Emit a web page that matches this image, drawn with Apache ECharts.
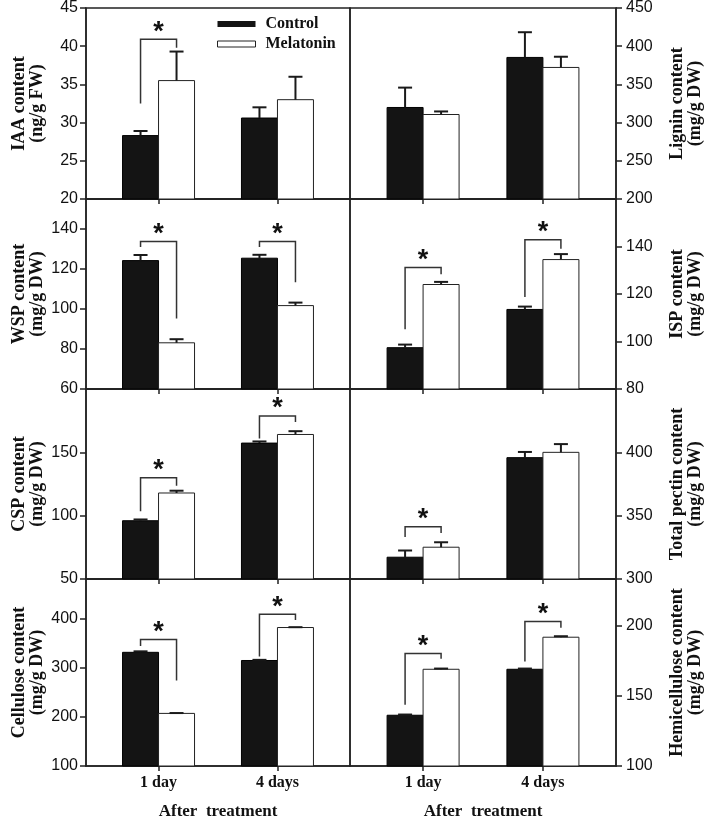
<!DOCTYPE html>
<html><head><meta charset="utf-8">
<script src="https://cdn.jsdelivr.net/npm/echarts@6/dist/echarts.min.js"></script>
<style>html,body{margin:0;padding:0;background:#fff}#c{width:705px;height:821px}</style>
</head><body><div id="c"></div>
<script>
// ---------- data ----------
const categories = ['1 day', '4 days'];
const seriesNames = ['Control', 'Melatonin'];
const xAxisTitle = 'After  treatment';

const iaaTitle = 'IAA content\n(ng/g FW)';
const iaaAxis = [20, 45, 5];
const iaaControl = [28.3, 30.6];
const iaaControlErr = [0.6, 1.4];
const iaaMelatonin = [35.5, 33.0];
const iaaMelatoninErr = [3.8, 3.0];
const iaaSig = [[40.9, 32.5, 39.8], null];

const ligninTitle = 'Lignin content\n(mg/g DW)';
const ligninAxis = [200, 450, 50];
const ligninControl = [319.8, 385.3];
const ligninControlErr = [26, 33];
const ligninMelatonin = [310.6, 372.2];
const ligninMelatoninErr = [4, 14];
const ligninSig = [null, null];

const wspTitle = 'WSP content\n(mg/g DW)';
const wspAxis = [60, 155, 20];
const wspControl = [124.2, 125.4];
const wspControlErr = [2.8, 1.7];
const wspMelatonin = [83.1, 101.7];
const wspMelatoninErr = [1.8, 1.5];
const wspSig = [[133.7, 131, 95.2], [133.7, 131, 113.4]];

const ispTitle = 'ISP content\n(mg/g DW)';
const ispAxis = [80, 160, 20];
const ispControl = [97.4, 113.5];
const ispControlErr = [1.3, 1.2];
const ispMelatonin = [124.0, 134.5];
const ispMelatoninErr = [1.1, 2.3];
const ispSig = [[131.2, 105.2, 128.3], [142.8, 118.7, 139.1]];

const cspTitle = 'CSP content\n(mg/g DW)';
const cspAxis = [50, 200, 50];
const cspControl = [96.0, 157.3];
const cspControlErr = [1.0, 1.3];
const cspMelatonin = [117.9, 164.1];
const cspMelatoninErr = [1.8, 2.6];
const cspSig = [[129.9, 103.5, 123.6], [178.7, 161, 174]];

const pectinTitle = 'Total pectin content\n(mg/g DW)';
const pectinAxis = [300, 450, 50];
const pectinControl = [317.2, 395.8];
const pectinControlErr = [5.3, 4.5];
const pectinMelatonin = [325.1, 400.0];
const pectinMelatoninErr = [3.9, 6.5];
const pectinSig = [[341.3, 333.2, 336.3], null];

const celluloseTitle = 'Cellulose content\n(mg/g DW)';
const celluloseAxis = [100, 480, 100];
const celluloseControl = [331, 314.4];
const celluloseControlErr = [2, 1.3];
const celluloseMelatonin = [206.9, 381.4];
const celluloseMelatoninErr = [0.7, 0.7];
const celluloseSig = [[356.9, 343.6, 273.9], [408.6, 322.3, 396.7]];

const hemiTitle = 'Hemicellulose content\n(mg/g DW)';
const hemiAxis = [100, 233, 50];
const hemiControl = [136.1, 168.8];
const hemiControlErr = [0.5, 0.5];
const hemiMelatonin = [168.8, 191.6];
const hemiMelatoninErr = [0.5, 0.7];
const hemiSig = [[180, 143.6, 176.2], [202.8, 174.4, 198.4]];

// ---------- layout / style ----------
const panels = [
  {title: iaaTitle, axis: iaaAxis, c: iaaControl, ce: iaaControlErr, m: iaaMelatonin, me: iaaMelatoninErr, sig: iaaSig},
  {title: ligninTitle, axis: ligninAxis, c: ligninControl, ce: ligninControlErr, m: ligninMelatonin, me: ligninMelatoninErr, sig: ligninSig},
  {title: wspTitle, axis: wspAxis, c: wspControl, ce: wspControlErr, m: wspMelatonin, me: wspMelatoninErr, sig: wspSig},
  {title: ispTitle, axis: ispAxis, c: ispControl, ce: ispControlErr, m: ispMelatonin, me: ispMelatoninErr, sig: ispSig},
  {title: cspTitle, axis: cspAxis, c: cspControl, ce: cspControlErr, m: cspMelatonin, me: cspMelatoninErr, sig: cspSig},
  {title: pectinTitle, axis: pectinAxis, c: pectinControl, ce: pectinControlErr, m: pectinMelatonin, me: pectinMelatoninErr, sig: pectinSig},
  {title: celluloseTitle, axis: celluloseAxis, c: celluloseControl, ce: celluloseControlErr, m: celluloseMelatonin, me: celluloseMelatoninErr, sig: celluloseSig},
  {title: hemiTitle, axis: hemiAxis, c: hemiControl, ce: hemiControlErr, m: hemiMelatonin, me: hemiMelatoninErr, sig: hemiSig}
];
const colLeft = [86, 350], colWidth = [264, 267];
const rowTop = [8, 199, 389, 579], rowHeight = [191, 190, 190, 190];
const LINE = '#222';
const BAR_W = 36, CAP_W = 14;
const SERIF = '"Liberation Serif", "Times New Roman", serif';
const SANS = '"Liberation Sans", Arial, sans-serif';

function barRender(side, yMin, fill, stroke) {
  return function (params, api) {
    const x = api.value(0), v = api.value(1), e = api.value(2);
    const top = api.coord([x, v]);
    const base = api.coord([x, yMin]);
    const errTop = api.coord([x, v + e]);
    const x0 = side < 0 ? top[0] - BAR_W : top[0];
    const cx = x0 + BAR_W / 2;
    return {type: 'group', children: [
      {type: 'rect', shape: {x: x0, y: top[1], width: BAR_W, height: base[1] - top[1]}, style: {fill: fill, stroke: stroke, lineWidth: 1}},
      {type: 'line', shape: {x1: cx, y1: top[1], x2: cx, y2: errTop[1]}, style: {stroke: '#1a1a1a', lineWidth: 2}},
      {type: 'line', shape: {x1: cx - CAP_W / 2, y1: errTop[1], x2: cx + CAP_W / 2, y2: errTop[1]}, style: {stroke: '#1a1a1a', lineWidth: 2}}
    ]};
  };
}
function sigRender(params, api) {
  const x = api.value(0);
  const t = api.coord([x, api.value(1)]);
  const l = api.coord([x, api.value(2)]);
  const r = api.coord([x, api.value(3)]);
  const xl = t[0] - BAR_W / 2, xr = t[0] + BAR_W / 2;
  return {type: 'group', children: [
    {type: 'polyline', shape: {points: [[xl, l[1]], [xl, t[1]], [xr, t[1]], [xr, r[1]]]}, style: {stroke: '#333', lineWidth: 1.5, fill: null}},
    {type: 'text', x: t[0], y: t[1] - 7, style: {text: '*', font: 'bold 27px ' + SANS, fill: '#111', align: 'center', verticalAlign: 'middle'}}
  ]};
}

const grid = [], xAxis = [], yAxis = [], series = [];
panels.forEach((p, i) => {
  const row = Math.floor(i / 2), col = i % 2;
  const bottomRow = row === 3;
  grid.push({left: colLeft[col], width: colWidth[col], top: rowTop[row], height: rowHeight[row],
    show: true, borderColor: LINE, borderWidth: 1.5, containLabel: false});
  xAxis.push({
    gridIndex: i, type: 'value', min: -0.61, max: 1.61, position: 'bottom',
    axisLine: {show: true, onZero: false, lineStyle: {color: LINE, width: 1.5}},
    axisTick: {show: true, length: 5, customValues: [0, 1], lineStyle: {color: LINE, width: 1.5}},
    axisLabel: {show: bottomRow, customValues: [0, 1], margin: 9, formatter: v => categories[Math.round(v)] || '',
      fontFamily: SERIF, fontWeight: 'bold', fontSize: 16, color: '#111'},
    splitLine: {show: false},
    name: bottomRow ? xAxisTitle : '', nameLocation: 'middle', nameGap: 37,
    nameTextStyle: {fontFamily: SERIF, fontWeight: 'bold', fontSize: 17, color: '#111'}
  });
  yAxis.push({
    gridIndex: i, type: 'value', position: col === 0 ? 'left' : 'right',
    min: p.axis[0], max: p.axis[1], interval: p.axis[2],
    axisLine: {show: true, onZero: false, lineStyle: {color: LINE, width: 1.5}},
    axisTick: {show: true, length: 6, lineStyle: {color: LINE, width: 1.5}},
    axisLabel: {showMaxLabel: row === 0, showMinLabel: true, margin: col === 0 ? 8 : 10,
      fontFamily: SANS, fontSize: 16, color: '#111'},
    splitLine: {show: false},
    name: p.title, nameLocation: 'middle', nameRotate: 90, nameGap: col === 0 ? 40 : 52,
    nameTextStyle: {fontFamily: SERIF, fontWeight: 'bold', fontSize: 18, lineHeight: 18, color: '#111'}
  });
  const yMin = p.axis[0];
  series.push({
    type: 'custom', name: seriesNames[0], xAxisIndex: i, yAxisIndex: i,
    itemStyle: {color: '#141414'},
    renderItem: barRender(-1, yMin, '#141414', '#000'),
    data: categories.map((c, k) => [k, p.c[k], p.ce[k]]),
    encode: {x: 0, y: [1]}
  });
  series.push({
    type: 'custom', name: seriesNames[1], xAxisIndex: i, yAxisIndex: i,
    itemStyle: {color: '#fff', borderColor: '#222', borderWidth: 1},
    renderItem: barRender(1, yMin, '#fff', '#222'),
    data: categories.map((c, k) => [k, p.m[k], p.me[k]]),
    encode: {x: 0, y: [1]}
  });
  const sigData = [];
  p.sig.forEach((s, k) => { if (s) sigData.push([k, s[0], s[1], s[2]]); });
  if (sigData.length) {
    series.push({type: 'custom', name: 'sig', xAxisIndex: i, yAxisIndex: i, silent: true,
      renderItem: sigRender, data: sigData, encode: {x: 0, y: [1]}, z: 5});
  }
});

const chart = echarts.init(document.getElementById('c'), null, {renderer: 'canvas'});
chart.setOption({
  animation: false,
  backgroundColor: '#fff',
  grid: grid, xAxis: xAxis, yAxis: yAxis, series: series,
  legend: {
    left: 217, top: 16, orient: 'vertical', padding: 0,
    itemWidth: 38, itemHeight: 6, itemGap: 4,
    data: [
      {name: seriesNames[0], icon: 'rect', itemStyle: {color: '#141414', borderColor: '#000', borderWidth: 0}},
      {name: seriesNames[1], icon: 'rect', itemStyle: {color: '#fff', borderColor: '#222', borderWidth: 1}}
    ],
    textStyle: {fontFamily: SERIF, fontWeight: 'bold', fontSize: 16, lineHeight: 16, color: '#111', padding: [0, 0, 0, 5]},
    selectedMode: false
  }
});
</script></body></html>
